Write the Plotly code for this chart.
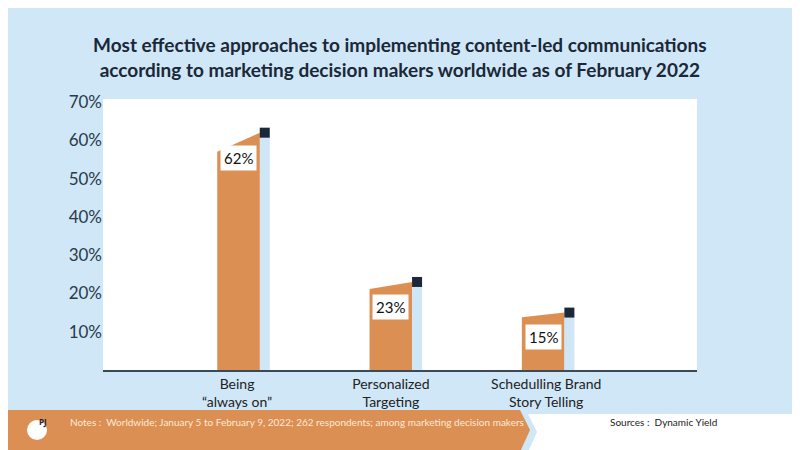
import plotly.graph_objects as go

categories = ["Being<br>“always on”", "Personalized<br>Targeting", "Schedulling Brand<br>Story Telling"]
values = [62, 23, 15]
tick_vals = [10, 20, 30, 40, 50, 60, 70]

ORANGE = "#dc8f52"
LIGHT = "#cfe6f7"
NAVY = "#1b2838"

# the page puts the figure 8px in from the window edge, so work in shifted px
OFF = 8
W, H = 800 - OFF, 450 - OFF
L, R, T, B = 103 - OFF, 697 - OFF, 99 - OFF, 370 - OFF

fig = go.Figure()
xs = [1, 2, 3]
for x, v in zip(xs, values):
    left = v * 0.92
    fig.add_trace(go.Scatter(
        x=[x - 0.17, x - 0.17, x + 0.11, x + 0.11, x - 0.17],
        y=[0, left, v, 0, 0], fill="toself", fillcolor=ORANGE,
        line=dict(width=0), mode="lines", hoverinfo="skip", showlegend=False))
    fig.add_trace(go.Scatter(
        x=[x + 0.11, x + 0.11, x + 0.175, x + 0.175, x + 0.11],
        y=[0, v, v, 0, 0], fill="toself", fillcolor=LIGHT,
        line=dict(width=0), mode="lines", hoverinfo="skip", showlegend=False))
fig.add_trace(go.Scatter(
    x=[x + 0.142 for x in xs], y=values, mode="markers",
    marker=dict(symbol="square", size=10, color=NAVY), showlegend=False))

for x, v in zip(xs, values):
    fig.add_annotation(x=x - 0.03, y=v - 6.5, text=f"{v}%", showarrow=False,
                       bgcolor="white", borderpad=3,
                       font=dict(size=15, color="#111", family="Lato"))

px = lambda p: (p - OFF - L) / (R - L)
py = lambda p: (B - (p - OFF)) / (B - T)
fig.add_shape(type="path", xref="paper", yref="paper",
              path=f"M {px(0)} {py(410)} L {px(520)} {py(410)} L {px(530)} {py(430)} L {px(520)} {py(452)} L {px(0)} {py(452)} Z",
              fillcolor=ORANGE, line=dict(width=0), layer="below")
fig.add_shape(type="path", xref="paper", yref="paper",
              path=f"M {px(528)} {py(414)} L {px(802)} {py(414)} L {px(802)} {py(452)} L {px(528)} {py(452)} L {px(537)} {py(432)} Z",
              fillcolor="white", line=dict(width=0), layer="below")
fig.add_shape(type="circle", xref="paper", yref="paper",
              x0=px(27), x1=px(47), y0=py(420), y1=py(440),
              fillcolor="white", line=dict(width=0))
fig.add_annotation(xref="paper", yref="paper", x=px(37), y=py(430), text="<b>PJ</b>",
                   showarrow=False, font=dict(size=8, color=NAVY))
fig.add_annotation(xref="paper", yref="paper", x=px(68), y=py(430), xanchor="left",
                   text="Notes :  Worldwide; January 5 to February 9, 2022; 262 respondents; among marketing decision makers",
                   showarrow=False, font=dict(size=10, color="#fbe9d8", family="Lato"))
fig.add_annotation(xref="paper", yref="paper", x=px(608), y=py(430), xanchor="left",
                   text="Sources :  Dynamic Yield", showarrow=False,
                   font=dict(size=10, color="#222", family="Lato"))
fig.add_annotation(xref="paper", yref="paper", x=px(400), y=py(57), yanchor="middle",
                   text="<b>Most effective approaches to implementing content-led communications<br>according to marketing decision makers worldwide as of February 2022</b>",
                   showarrow=False, font=dict(size=19, color=NAVY, family="Lato"))

fig.update_layout(
    width=W, height=H, margin=dict(l=L, r=W - R, t=T, b=H - B, autoexpand=False),
    paper_bgcolor="#cfe7f7", plot_bgcolor="white",
    xaxis=dict(range=[0.08, 3.98], tickvals=[0.96, 1.97, 2.99], ticktext=categories,
               showgrid=False, zeroline=False, showline=True, linecolor="#3a4a5a",
               linewidth=2, ticks="", automargin=False,
               tickfont=dict(size=14, color="#222", family="Lato")),
    yaxis=dict(range=[0, 70.8], tickvals=tick_vals, ticktext=[f"{t}%" for t in tick_vals],
               showgrid=False, zeroline=False, showline=False, ticks="", automargin=False,
               tickfont=dict(size=17, color="#2a3a4a", family="Lato")),
)
fig.write_html("out.html")
